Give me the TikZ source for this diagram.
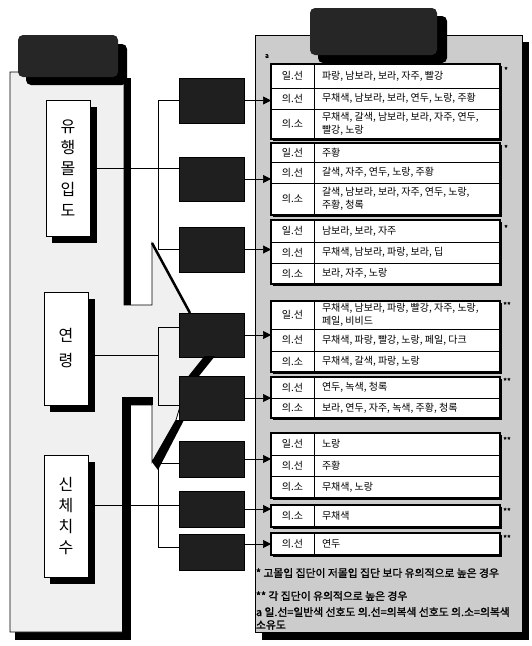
\documentclass[tikz,border=0pt]{standalone}
\usepackage{fontspec}
\setmainfont{Noto Sans CJK KR}[AutoFakeBold=1.5]
\usetikzlibrary{arrows.meta}
\begin{document}
\begin{tikzpicture}[x=1pt,y=-1pt,
  every node/.style={inner sep=0pt, outer sep=0pt},
  nw/.style={anchor=north west},
  darkbox/.style={nw, fill=black!88, draw=black, minimum width=65pt},
  lblbox/.style={nw, fill=white, draw=black, line width=0.6pt, minimum width=44pt},
  tbl/.style={nw, fill=white, draw=black, line width=1.1pt, minimum width=229pt},
  hdr/.style={nw, fill=black!85, rounded corners=5pt},
  hdrshadow/.style={fill=black, rounded corners=5pt},
  tlab/.style={font=\fontsize{10}{11}\selectfont},
  ttxt/.style={anchor=west, align=left, font=\fontsize{10}{12.5}\selectfont},
  rowline/.style={line width=0.8pt},
  conn/.style={line width=0.6pt},
  arr/.style={line width=0.7pt, -{Triangle[length=8pt,width=8pt]}},
  star/.style={font=\bfseries\fontsize{8}{8}\selectfont},
  foot/.style={anchor=west, font=\bfseries\fontsize{10.8}{12}\selectfont},
  big/.style={align=center}
]
\useasboundingbox (0,0) rectangle (531,646);

% ---------- left panel ----------
\fill[black] (15,632) rectangle (131,640);
\filldraw[fill=black!6, draw=black, line width=0.8pt]
  (10,72) -- (124,72) -- (124,305) -- (152,305) -- (152,243) -- (190,313)
  -- (205,356) -- (189,376) -- (176,420) -- (152,462) -- (152,405)
  -- (124,405) -- (124,632) -- (10,632) -- cycle;
\fill[black] (124,78) rectangle (131,305);
\fill[black] (122,397) rectangle (153,405);
\fill[black] (122,397) rectangle (131,640);
\draw[line width=2.5pt] (152,243) -- (190,313);

% left header
\fill[hdrshadow] (26,44) rectangle (127,85);
\node[hdr, minimum width=100pt, minimum height=42pt] (hdrL) at (18,35) {};

% label boxes
\fill[black] (52,107) rectangle (97,243);
\node[lblbox, minimum height=136pt] (L1) at (46,100) {};
\node[big, font=\fontsize{16}{21}\selectfont] (L1t) at (L1.center) {유\\행\\몰\\입\\도};
\fill[black] (50,299) rectangle (95,412);
\node[lblbox, minimum height=113pt] (L2) at (44,292) {};
\node[big, font=\fontsize{16}{25}\selectfont] (L2t) at (L2.center) {연\\령};
\fill[black] (50,462) rectangle (95,584);
\node[lblbox, minimum height=122pt] (L3) at (44,455) {};
\node[big, font=\fontsize{16}{21}\selectfont] (L3t) at (L3.center) {신\\체\\치\\수};

% dark group boxes
\node[darkbox, minimum height=45pt] (b1) at (179,78) {};
\node[darkbox, minimum height=44pt] (b2) at (179,157) {};
\node[darkbox, minimum height=45pt] (b3) at (179,227) {};
\node[darkbox, minimum height=44pt] (b4) at (179,313) {};
\node[darkbox, minimum height=44pt] (b5) at (179,376) {};
\node[darkbox, minimum height=36pt] (b6) at (179,441) {};
\node[darkbox, minimum height=36pt] (b7) at (179,491) {};
\node[darkbox, minimum height=36pt] (b8) at (179,534) {};

% wedges
\fill[black] (205,356) -- (215,356) -- (199,376) -- (189,376) -- cycle;
\fill[black] (176,420) -- (184,420) -- (158,470) -- (152,462) -- cycle;

% connectors
\coordinate (jx) at (158,0);
\draw[conn] (L1.east) -- (L1.east -| b2.west);
\draw[conn] (b1.west) -- (b1.west -| jx) -- (b3.west -| jx) -- (b3.west);
\coordinate (c2) at ([yshift=-6.5pt]L2.east);
\coordinate (c4) at ([yshift=8pt]b4.west);
\coordinate (c5) at ([yshift=-7pt]b5.west);
\draw[conn] (c2) -- (c2 -| jx);
\draw[conn] (c4) -- (c4 -| jx) -- (c5 -| jx) -- (c5);
\coordinate (c3) at ([yshift=11pt]L3.east);
\coordinate (c6) at ([yshift=-4pt]b6.west);
\coordinate (c8) at ([yshift=5pt]b8.west);
\draw[conn] (c3) -- (c3 -| b7.west);
\draw[conn] (c6) -- (c6 -| jx) -- (c8 -| jx) -- (c8);

% ---------- right panel ----------
\fill[black] (262,42) rectangle (529,640);
\filldraw[fill=black!20, draw=black, line width=0.8pt] (255,35) rectangle (522,632);
\fill[hdrshadow] (318,16) rectangle (447,63);
\node[hdr, minimum width=127pt, minimum height=47pt] (hdrR) at (310,8) {};
\node[font=\bfseries\fontsize{7}{7}\selectfont] (amark) at (267,56) {a};

% table shadows
\foreach \a/\b in {64/139,143/215,220/284,301/372,377/418,433/498,505/527,533/555}
  \fill[black] (273,\a+2) rectangle (502,\b+2);

% table 1
\node[tbl, minimum height=75pt] (t1) at (271,64) {};
\draw[rowline] (271,88) -- (500,88); \draw[rowline] (271,109) -- (500,109);
\draw[rowline] (314,64) -- (314,139);
\node[tlab] (t1a) at (292.5,76) {일.선};
\node[ttxt] (t1at) at (322,76) {파랑, 남보라, 보라, 자주, 빨강};
\node[tlab] (t1b) at (292.5,98.5) {의.선};
\node[ttxt] (t1bt) at (322,98.5) {무채색, 남보라, 보라, 연두, 노랑, 주황};
\node[tlab] (t1c) at (292.5,124) {의.소};
\node[ttxt] (t1ct) at (322,124) {무채색, 갈색, 남보라, 보라, 자주, 연두,\\빨강, 노랑};
\node[star] (s1) at (506,70) {*};

% table 2
\node[tbl, minimum height=72pt] (t2) at (271,143) {};
\draw[rowline] (271,162) -- (500,162); \draw[rowline] (271,183) -- (500,183);
\draw[rowline] (314,143) -- (314,215);
\node[tlab] (t2a) at (292.5,152.5) {일.선};
\node[ttxt] (t2at) at (322,152.5) {주황};
\node[tlab] (t2b) at (292.5,172.5) {의.선};
\node[ttxt] (t2bt) at (322,172.5) {갈색, 자주, 연두, 노랑, 주황};
\node[tlab] (t2c) at (292.5,199) {의.소};
\node[ttxt] (t2ct) at (322,199) {갈색, 남보라, 보라, 자주, 연두, 노랑,\\주황, 청록};
\node[star] (s2) at (506,148) {*};

% table 3
\node[tbl, minimum height=64pt] (t3) at (271,220) {};
\draw[rowline] (271,242) -- (500,242); \draw[rowline] (271,263) -- (500,263);
\draw[rowline] (314,220) -- (314,284);
\node[tlab] (t3a) at (292.5,231) {일.선};
\node[ttxt] (t3at) at (322,231) {남보라, 보라, 자주};
\node[tlab] (t3b) at (292.5,252.5) {의.선};
\node[ttxt] (t3bt) at (322,252.5) {무채색, 남보라, 파랑, 보라, 딥};
\node[tlab] (t3c) at (292.5,273.5) {의.소};
\node[ttxt] (t3ct) at (322,273.5) {보라, 자주, 노랑};
\node[star] (s3) at (506,228) {*};

% table 4
\node[tbl, minimum height=71pt] (t4) at (271,301) {};
\draw[rowline] (271,329) -- (500,329); \draw[rowline] (271,351) -- (500,351);
\draw[rowline] (314,301) -- (314,372);
\node[tlab] (t4a) at (292.5,315) {일.선};
\node[ttxt] (t4at) at (322,315) {무채색, 남보라, 파랑, 빨강, 자주, 노랑,\\페일, 비비드};
\node[tlab] (t4b) at (292.5,340) {의.선};
\node[ttxt] (t4bt) at (322,340) {무채색, 파랑, 빨강, 노랑, 페일, 다크};
\node[tlab] (t4c) at (292.5,361.5) {의.소};
\node[ttxt] (t4ct) at (322,361.5) {무채색, 갈색, 파랑, 노랑};
\node[star] (s4) at (507,305) {**};

% table 5
\node[tbl, minimum height=41pt] (t5) at (271,377) {};
\draw[rowline] (271,398) -- (500,398);
\draw[rowline] (314,377) -- (314,418);
\node[tlab] (t5a) at (292.5,387.5) {의.선};
\node[ttxt] (t5at) at (322,387.5) {연두, 녹색, 청록};
\node[tlab] (t5b) at (292.5,408) {의.소};
\node[ttxt] (t5bt) at (322,408) {보라, 연두, 자주, 녹색, 주황, 청록};
\node[star] (s5) at (507,381) {**};

% table 6
\node[tbl, minimum height=65pt] (t6) at (271,433) {};
\draw[rowline] (271,455) -- (500,455); \draw[rowline] (271,476) -- (500,476);
\draw[rowline] (314,433) -- (314,498);
\node[tlab] (t6a) at (292.5,444) {일.선};
\node[ttxt] (t6at) at (322,444) {노랑};
\node[tlab] (t6b) at (292.5,465.5) {의.선};
\node[ttxt] (t6bt) at (322,465.5) {주황};
\node[tlab] (t6c) at (292.5,487) {의.소};
\node[ttxt] (t6ct) at (322,487) {무채색, 노랑};
\node[star] (s6) at (507,440) {**};

% table 7
\node[tbl, minimum height=22pt] (t7) at (271,505) {};
\draw[rowline] (314,505) -- (314,527);
\node[tlab] (t7a) at (292.5,516) {의.소};
\node[ttxt] (t7at) at (322,516) {무채색};
\node[star] (s7) at (507,511) {**};

% table 8
\node[tbl, minimum height=22pt] (t8) at (271,533) {};
\draw[rowline] (314,533) -- (314,555);
\node[tlab] (t8a) at (292.5,544) {의.선};
\node[ttxt] (t8at) at (322,544) {연두};
\node[star] (s8) at (507,538) {**};

% arrows
\draw[arr] (b1.east) -- (b1.east -| t1.west);
\draw[arr] (b2.east) -- (b2.east -| t2.west);
\draw[arr] (b3.east) -- (b3.east -| t3.west);
\draw[arr] (b4.east) -- (b4.east -| t4.west);
\draw[arr] (b5.east) -- (b5.east -| t5.west);
\draw[arr] (b6.east) -- (b6.east -| t6.west);
\draw[arr] (b7.east) -- (b7.east -| t7.west);
\draw[arr] (b8.east |- t8.west) -- (t8.west);

% footnotes
\node[foot] (f1) at (256,573) {* 고몰입 집단이 저몰입 집단 보다 유의적으로 높은 경우};
\node[foot] (f2) at (256,596) {** 각 집단이 유의적으로 높은 경우};
\node[foot] (f3) at (256,612) {a 일.선=일반색 선호도 의.선=의복색 선호도 의.소=의복색};
\node[foot] (f4) at (256,625) {소유도};
\end{tikzpicture}
\end{document}
